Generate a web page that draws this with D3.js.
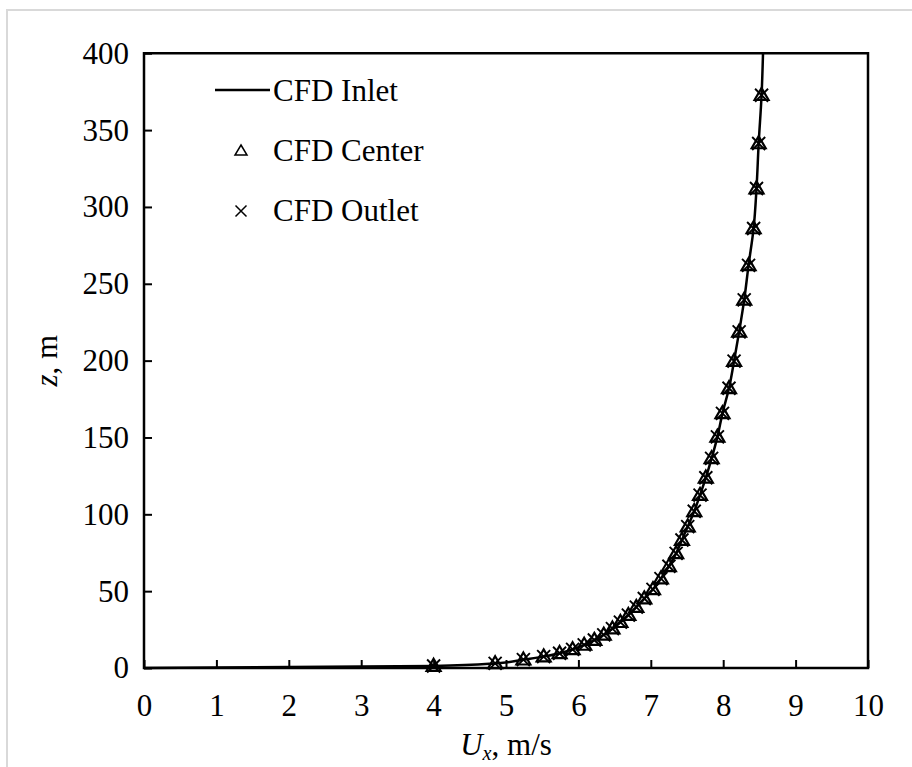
<!DOCTYPE html>
<html><head><meta charset="utf-8">
<script src="https://cdn.jsdelivr.net/npm/d3@7"></script>
<style>
body{margin:0;background:#fff}
svg{display:block}
text{font-family:"Liberation Serif","Times New Roman",serif;fill:#000}
</style>
</head><body>
<script>
// ---- data ----
const xTicks = [0,1,2,3,4,5,6,7,8,9,10];
const yTicks = [0,50,100,150,200,250,300,350,400];
const seriesNames = ["CFD Inlet","CFD Center","CFD Outlet"];

// inlet profile (solid line)
const inletU = [0.00,4.00,4.85,5.24,5.52,5.74,5.92,6.08,6.22,6.35,6.47,6.58,6.69,6.80,6.91,7.03,7.14,7.25,7.35,7.43,7.51,7.60,7.68,7.76,7.84,7.92,7.99,8.08,8.15,8.22,8.29,8.35,8.42,8.46,8.49,8.53,8.55];
const inletZ = [0.0,1.3,3.0,5.4,7.4,9.6,12.1,15.0,18.2,21.6,25.6,29.8,34.4,39.6,45.2,51.2,58.2,66.2,74.6,83.3,92.0,102.0,112.5,123.8,136.4,150.4,165.7,182.0,199.7,218.7,239.5,262.0,286.0,312.0,341.3,372.7,400.0];

// center profile (triangles)
const centerU = [4.00,4.85,5.24,5.52,5.74,5.92,6.08,6.22,6.35,6.47,6.58,6.69,6.80,6.91,7.03,7.14,7.25,7.35,7.43,7.51,7.60,7.68,7.76,7.84,7.92,7.99,8.08,8.15,8.22,8.29,8.35,8.42,8.46,8.49,8.53];
const centerZ = [1.3,3.0,5.4,7.4,9.6,12.1,15.0,18.2,21.6,25.6,29.8,34.4,39.6,45.2,51.2,58.2,66.2,74.6,83.3,92.0,102.0,112.5,123.8,136.4,150.4,165.7,182.0,199.7,218.7,239.5,262.0,286.0,312.0,341.3,372.7];

// outlet profile (crosses)
const outletU = [4.00,4.85,5.24,5.52,5.74,5.92,6.08,6.22,6.35,6.47,6.58,6.69,6.80,6.91,7.03,7.14,7.25,7.35,7.43,7.51,7.60,7.68,7.76,7.84,7.92,7.99,8.08,8.15,8.22,8.29,8.35,8.42,8.46,8.49,8.53];
const outletZ = [1.3,3.0,5.4,7.4,9.6,12.1,15.0,18.2,21.6,25.6,29.8,34.4,39.6,45.2,51.2,58.2,66.2,74.6,83.3,92.0,102.0,112.5,123.8,136.4,150.4,165.7,182.0,199.7,218.7,239.5,262.0,286.0,312.0,341.3,372.7];

// ---- layout ----
const W = 912, H = 767;
const pLeft = 144, pRight = 868, pTop = 53.25, pBottom = 668;
const FS = 31;

const svg = d3.select("body").append("svg").attr("width", W).attr("height", H);
svg.append("rect").attr("width", W).attr("height", H).attr("fill", "#fff");
// outer chart border
svg.append("rect").attr("x", 7).attr("y", 10).attr("width", 1000).attr("height", 1000)
  .attr("fill", "none").attr("stroke", "#d9d9d9").attr("stroke-width", 2);

const x = d3.scaleLinear().domain([0, 10]).range([pLeft, pRight]);
const y = d3.scaleLinear().domain([0, 400]).range([pBottom, pTop]);

// axes
const gx = svg.append("g").attr("transform", `translate(0,${pBottom})`)
  .call(d3.axisBottom(x).tickValues(xTicks).tickFormat(d3.format("d")).tickSizeInner(-8).tickSizeOuter(0).tickPadding(26));
const gy = svg.append("g").attr("transform", `translate(${pLeft},0)`)
  .call(d3.axisLeft(y).tickValues(yTicks).tickFormat(d3.format("d")).tickSizeInner(-8).tickSizeOuter(0).tickPadding(15));
[gx, gy].forEach(g => {
  g.select(".domain").remove();
  g.selectAll(".tick line").attr("stroke", "#000").attr("stroke-width", 2);
  g.selectAll(".tick text").attr("font-size", FS).attr("font-family", '"Liberation Serif","Times New Roman",serif').attr("fill", "#000");
});

// frame
svg.append("rect").attr("x", x(0)).attr("y", y(400)).attr("width", x(10) - x(0)).attr("height", y(0) - y(400))
  .attr("fill", "none").attr("stroke", "#000").attr("stroke-width", 2.5);

// inlet line
const inlet = inletU.map((u, i) => ({u, z: inletZ[i]}));
const line = d3.line().x(d => x(d.u)).y(d => y(d.z)).curve(d3.curveMonotoneY);
svg.append("path").datum(inlet).attr("d", line).attr("fill", "none")
  .attr("stroke", "#000").attr("stroke-width", 2.5).attr("stroke-linejoin", "round");

// marker shapes
const triPath = (w, h) => `M0,${-h*0.6}L${w/2},${h*0.4}L${-w/2},${h*0.4}Z`;
const crossPath = s => `M${-s},${-s}L${s},${s}M${-s},${s}L${s},${-s}`;

const center = centerU.map((u, i) => ({u, z: centerZ[i]}));
const outlet = outletU.map((u, i) => ({u, z: outletZ[i]}));

svg.append("g").selectAll("path").data(center).join("path")
  .attr("transform", d => `translate(${x(d.u)},${y(d.z)})`)
  .attr("d", triPath(14, 12)).attr("fill", "none").attr("stroke", "#000").attr("stroke-width", 2.2)
  .attr("stroke-linejoin", "miter");
svg.append("g").selectAll("path").data(outlet).join("path")
  .attr("transform", d => `translate(${x(d.u)},${y(d.z)})`)
  .attr("d", crossPath(6.5)).attr("fill", "none").attr("stroke", "#000").attr("stroke-width", 1.9);

// legend
const lg = svg.append("g");
lg.append("line").attr("x1", 215).attr("x2", 270).attr("y1", 90).attr("y2", 90)
  .attr("stroke", "#000").attr("stroke-width", 2.5);
lg.append("path").attr("transform", "translate(241,151)").attr("d", triPath(12, 10))
  .attr("fill", "none").attr("stroke", "#000").attr("stroke-width", 1.5);
lg.append("path").attr("transform", "translate(241,211)").attr("d", crossPath(5.5))
  .attr("fill", "none").attr("stroke", "#000").attr("stroke-width", 1.5);
[100.5, 160.5, 220.5].forEach((yy, i) => {
  lg.append("text").attr("x", 273).attr("y", yy).attr("font-size", FS).text(seriesNames[i]);
});

// axis titles
const xt = svg.append("text").attr("x", (pLeft + pRight) / 2).attr("y", 755)
  .attr("text-anchor", "middle").attr("font-size", FS);
xt.append("tspan").attr("font-style", "italic").text("U");
xt.append("tspan").attr("font-style", "italic").attr("font-size", FS * 0.65).attr("dy", 5).text("x");
xt.append("tspan").attr("dy", -5).text(", m/s");

const yt = svg.append("text").attr("transform", `translate(57,${(pTop + pBottom) / 2}) rotate(-90)`)
  .attr("text-anchor", "middle").attr("font-size", FS);
yt.append("tspan").attr("font-style", "italic").text("z");
yt.append("tspan").text(", m");
</script>
</body></html>
